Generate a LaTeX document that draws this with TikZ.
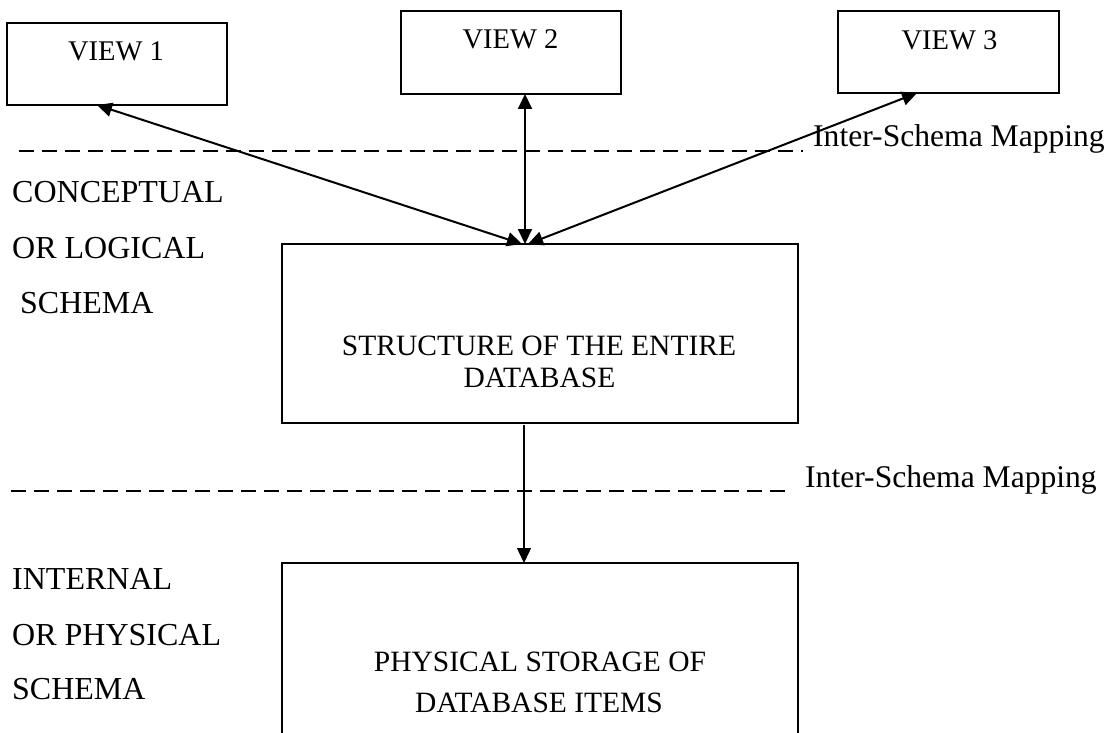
\documentclass[tikz,border=0pt]{standalone}
\usepackage{fontspec}
\setmainfont{Liberation Serif}
\usetikzlibrary{arrows.meta}
\begin{document}
\begin{tikzpicture}[x=1pt,y=-1pt,
  box/.style={draw, line width=1.6pt, inner sep=0pt, outer sep=0pt},
  viewtxt/.style={font=\fontsize{28.5}{34}\selectfont, anchor=base, inner sep=0pt},
  sidetxt/.style={font=\fontsize{32}{38}\selectfont, anchor=base west, inner sep=0pt},
  boxtxt/.style={font=\fontsize{29.5}{35}\selectfont, anchor=base, inner sep=0pt},
  maptxt/.style={font=\fontsize{31.6}{38}\selectfont, anchor=base west, inner sep=0pt},
  sepline/.style={dash pattern=on 15pt off 8pt, line width=1.3pt},
  link/.style={line width=2pt, {Triangle[length=15pt,width=14pt]}-{Triangle[length=15pt,width=14pt]}},
  down/.style={line width=1.4pt, -{Triangle[length=15pt,width=14pt]}}
]
\clip (0,0) rectangle (1109,733);
\fill[white] (0,0) rectangle (1109,733);

% view boxes
\node[box, minimum width=220pt, minimum height=82pt] (v1) at (117,64) {};
\node[box, minimum width=220pt, minimum height=83pt] (v2) at (511,52.5) {};
\node[box, minimum width=221pt, minimum height=82pt] (v3) at (948.5,52) {};
\node[viewtxt] (v1t) at (116,61) {VIEW 1};
\node[viewtxt] (v2t) at (510.5,49) {VIEW 2};
\node[viewtxt] (v3t) at (949.5,50) {VIEW 3};

% structure box
\node[box, minimum width=516pt, minimum height=179pt] (st) at (540,333.5) {};
\node[boxtxt] (st1) at (539,355) {STRUCTURE OF THE ENTIRE};
\node[boxtxt] (st2) at (539.5,387) {DATABASE};

% physical box (continues below the page)
\node[box, minimum width=516pt, minimum height=400pt, anchor=north] (ph) at (540,563) {};
\node[boxtxt] (ph1) at (540,671) {PHYSICAL STORAGE OF};
\node[boxtxt] (ph2) at (539,712) {DATABASE ITEMS};

% side labels
\node[sidetxt] (c1) at (12,203) {CONCEPTUAL};
\node[sidetxt] (c2) at (12,258) {OR LOGICAL};
\node[sidetxt] (c3) at (20,313) {SCHEMA};
\node[sidetxt] (i1) at (12,589) {INTERNAL};
\node[sidetxt] (i2) at (12,645) {OR PHYSICAL};
\node[sidetxt] (i3) at (12,699) {SCHEMA};

% dashed separators and labels
\draw[sepline] (19,151) -- (803,151);
\node[maptxt] (m1) at (813,147) {Inter-Schema Mapping};
\draw[sepline] (11,491) -- (792,491);
\node[maptxt] (m2) at (805,487) {Inter-Schema Mapping};

% connectors
\draw[link] ([xshift=-20pt]v1.south) -- ([xshift=-18pt]st.north);
\draw[link] ([xshift=14pt]v2.south) -- ([xshift=-15pt]st.north);
\draw[link] ([xshift=-31.5pt]v3.south) -- ([xshift=-12pt]st.north);
\draw[down] ([xshift=-16pt,yshift=-2pt]st.south) -- ([xshift=-16pt]ph.north);
\end{tikzpicture}
\end{document}
